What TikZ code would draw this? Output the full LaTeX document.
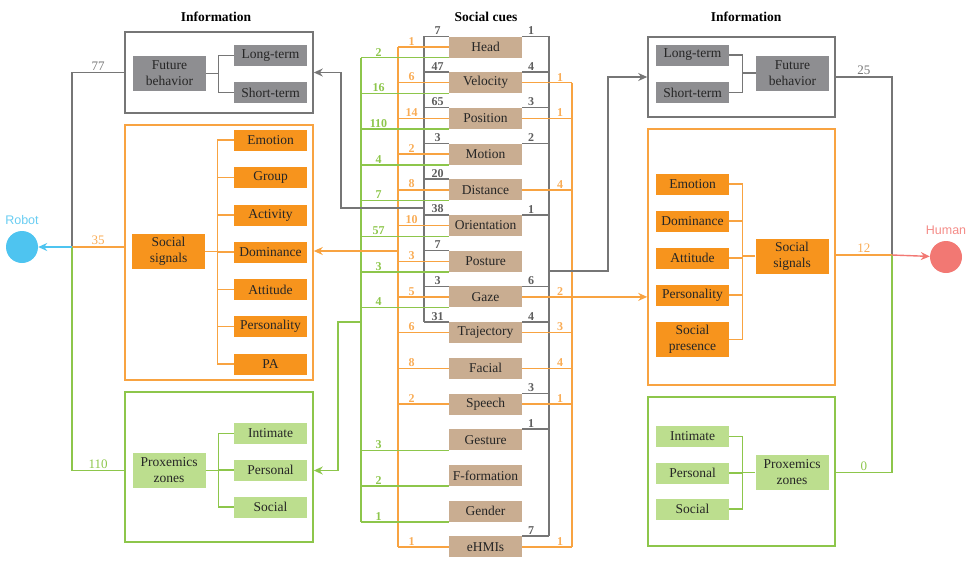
\documentclass[tikz,border=0pt]{standalone}
\usepackage{fontspec}
\usepackage{xcolor,ifthen,xifthen}
\setmainfont{Liberation Serif}
\newfontfamily\agentfont{Liberation Sans}
\usetikzlibrary{arrows.meta,positioning}
\definecolor{cuetan}{RGB}{201,173,145}
\definecolor{grayfill}{RGB}{142,142,145}
\definecolor{grayline}{RGB}{118,118,118}
\definecolor{orangefill}{RGB}{247,148,29}
\definecolor{orangeline}{RGB}{248,163,65}
\definecolor{orangenum}{RGB}{249,172,85}
\definecolor{greenfill}{RGB}{188,222,142}
\definecolor{greenline}{RGB}{141,198,75}
\definecolor{robotblue}{RGB}{78,196,240}
\definecolor{humanpink}{RGB}{242,120,115}
\tikzset{
  base/.style={rectangle, inner sep=0pt, align=center, text=black!85,
    font=\fontsize{13.5}{16}\selectfont, minimum width=73, minimum height=21},
  cue/.style={base, fill=cuetan},
  gitem/.style={base, fill=grayfill},
  oitem/.style={base, fill=orangefill},
  gritem/.style={base, fill=greenfill},
  frame/.style={rectangle, line width=1.6pt, inner sep=0pt},
  gframe/.style={frame, draw=grayline},
  oframe/.style={frame, draw=orangeline},
  grframe/.style={frame, draw=greenline},
  gline/.style={draw=grayline, line width=1.4pt},
  oline/.style={draw=orangeline, line width=1.4pt},
  grline/.style={draw=greenline, line width=1.4pt},
  tip/.style={-{Stealth[length=9pt,width=8pt]}},
  num/.style={inner sep=1pt, font=\fontsize{12}{13}\selectfont\bfseries},
  gnum/.style={num, text=grayline!80!black},
  onum/.style={num, text=orangenum},
  grnum/.style={num, text=greenline},
  big/.style={inner sep=1.5pt, font=\fontsize{13}{14}\selectfont},
  title/.style={font=\fontsize{13.5}{15}\selectfont\bfseries},
  agent/.style={circle, minimum size=32, inner sep=0pt},
  agentlbl/.style={inner sep=1pt, font=\agentfont\fontsize{12.5}{14}\selectfont}
}
\newcommand{\lcue}[4]{%
  \ifthenelse{\isempty{#2}}{}{\draw[gline] (#1.north west) -- (#1.north west -| lgray) node[pos=0.45,above,gnum]{#2};}%
  \ifthenelse{\isempty{#3}}{}{\draw[oline] (#1.west) -- (#1.west -| lorange) node[pos=0.73,above,onum]{#3};}%
  \ifthenelse{\isempty{#4}}{}{\draw[grline] (#1.south west) -- (#1.south west -| lgreen) node[pos=0.8,above,grnum]{#4};}%
}
\newcommand{\rcue}[3]{%
  \ifthenelse{\isempty{#2}}{}{\draw[gline] (#1.north east) -- (#1.north east -| rgray) node[pos=0.33,above,gnum]{#2};}%
  \ifthenelse{\isempty{#3}}{}{\draw[oline] (#1.east) -- (#1.east -| rorange) node[pos=0.76,above,onum]{#3};}%
}
\newcommand{\ltree}[3]{\draw[#1] (#2.east) -- ++(12.5,0) |- (#3.west);}
\newcommand{\rtree}[3]{\draw[#1] (#3.east) -- ++(13,0) |- (#2.west);}

\begin{document}
\begin{tikzpicture}[x=1pt,y=-1pt]
\useasboundingbox (0,0) rectangle (973,560);
\node[title] (ltitle) at (216,17) {Information};
\node[title] (ctitle) at (486,17) {Social cues};
\node[title] (rtitle) at (746,17) {Information};

\coordinate (lgray) at (424,0);
\coordinate (lorange) at (398,0);
\coordinate (lgreen) at (361,0);
\coordinate (rgray) at (549,0);
\coordinate (rorange) at (572,0);

\node[cue] (head) at (485.5,47) {Head};
\node[cue] (velocity) at (485.5,82.7) {Velocity};
\node[cue] (position) at (485.5,118.4) {Position};
\node[cue] (motion) at (485.5,154.1) {Motion};
\node[cue] (distance) at (485.5,189.8) {Distance};
\node[cue] (orientation) at (485.5,225.5) {Orientation};
\node[cue] (posture) at (485.5,261.2) {Posture};
\node[cue] (gaze) at (485.5,296.9) {Gaze};
\node[cue] (trajectory) at (485.5,332.6) {Trajectory};
\node[cue] (facial) at (485.5,368.3) {Facial};
\node[cue] (speech) at (485.5,404) {Speech};
\node[cue] (gesture) at (485.5,439.7) {Gesture};
\node[cue] (fformation) at (485.5,475.4) {F-formation};
\node[cue] (gender) at (485.5,511.1) {Gender};
\node[cue] (ehmis) at (485.5,546.8) {eHMIs};

\draw[gline] (head.north west -| lgray) -- (trajectory.north west -| lgray);
\draw[oline] (head.west -| lorange) -- (ehmis.west -| lorange);
\draw[grline] (head.south west -| lgreen) -- (gender.south west -| lgreen);
\draw[gline] (head.north east -| rgray) -- (ehmis.north east -| rgray);
\draw[oline] (velocity.east -| rorange) -- (ehmis.east -| rorange);

\lcue{head}{7}{1}{2}
\lcue{velocity}{47}{6}{16}
\lcue{position}{65}{14}{110}
\lcue{motion}{3}{2}{4}
\lcue{distance}{20}{8}{7}
\lcue{orientation}{38}{10}{57}
\lcue{posture}{7}{3}{3}
\lcue{gaze}{3}{5}{4}
\lcue{trajectory}{31}{6}{}
\lcue{facial}{}{8}{}
\lcue{speech}{}{2}{}
\lcue{gesture}{}{}{3}
\lcue{fformation}{}{}{2}
\lcue{gender}{}{}{1}
\lcue{ehmis}{}{1}{}

\rcue{head}{1}{}
\rcue{velocity}{4}{1}
\rcue{position}{3}{1}
\rcue{motion}{2}{}
\rcue{distance}{}{4}
\rcue{orientation}{1}{}
\rcue{gaze}{6}{2}
\rcue{trajectory}{4}{3}
\rcue{facial}{}{4}
\rcue{speech}{3}{1}
\rcue{gesture}{1}{}
\rcue{ehmis}{7}{1}

\node[gframe, minimum width=188, minimum height=81] (lfbox) at (219,72.5) {};
\node[gitem, minimum height=35] (lfb) at (169.5,73.5) {Future\\behavior};
\node[gitem] (llong) at (270.5,55.5) {Long-term};
\node[gitem] (lshort) at (270.5,92.5) {Short-term};
\ltree{gline}{lfb}{llong}
\ltree{gline}{lfb}{lshort}

\node[oframe, minimum width=188, minimum height=255] (lsbox) at (219,252.5) {};
\node[oitem, minimum height=35] (lss) at (168.5,251.5) {Social\\signals};
\node[oitem] (lemotion) at (270.5,140) {Emotion};
\node[oitem] (lgroup) at (270.5,177.5) {Group};
\node[oitem] (lactivity) at (270.5,215) {Activity};
\node[oitem] (ldominance) at (270.5,252) {Dominance};
\node[oitem] (lattitude) at (270.5,289.5) {Attitude};
\node[oitem] (lpersonality) at (270.5,326.5) {Personality};
\node[oitem] (lpa) at (270.5,364) {PA};
\ltree{oline}{lss}{lemotion}
\ltree{oline}{lss}{lgroup}
\ltree{oline}{lss}{lactivity}
\ltree{oline}{lss}{ldominance}
\ltree{oline}{lss}{lattitude}
\ltree{oline}{lss}{lpersonality}
\ltree{oline}{lss}{lpa}

\node[grframe, minimum width=188, minimum height=150] (lpbox) at (219,467) {};
\node[gritem, minimum height=35] (lpz) at (169,470.5) {Proxemics\\zones};
\node[gritem] (lintimate) at (270.5,433.5) {Intimate};
\node[gritem] (lpersonal) at (270.5,470) {Personal};
\node[gritem] (lsocial) at (270.5,507) {Social};
\ltree{grline}{lpz}{lintimate}
\ltree{grline}{lpz}{lpersonal}
\ltree{grline}{lpz}{lsocial}

\node[gframe, minimum width=187, minimum height=80] (rfbox) at (741.5,77) {};
\node[gitem] (rlong) at (692.5,55) {Long-term};
\node[gitem] (rshort) at (692.5,92.5) {Short-term};
\node[gitem, minimum height=35] (rfb) at (792.5,73) {Future\\behavior};
\rtree{gline}{rfb}{rlong}
\rtree{gline}{rfb}{rshort}

\node[oframe, minimum width=187, minimum height=256] (rsbox) at (741.5,257) {};
\node[oitem] (remotion) at (692.5,184) {Emotion};
\node[oitem] (rdominance) at (692.5,221) {Dominance};
\node[oitem] (rattitude) at (692.5,258) {Attitude};
\node[oitem] (rpersonality) at (692.5,295) {Personality};
\node[oitem, minimum height=35] (rpresence) at (692.5,339.5) {Social\\presence};
\node[oitem, minimum height=35] (rss) at (792,256) {Social\\signals};
\rtree{oline}{rss}{remotion}
\rtree{oline}{rss}{rdominance}
\rtree{oline}{rss}{rattitude}
\rtree{oline}{rss}{rpersonality}
\rtree{oline}{rss}{rpresence}

\node[grframe, minimum width=187, minimum height=149] (rpbox) at (741.5,471.5) {};
\node[gritem] (rintimate) at (692.5,436.5) {Intimate};
\node[gritem] (rpersonal) at (692.5,473) {Personal};
\node[gritem] (rsocial) at (692.5,509) {Social};
\node[gritem, minimum height=35] (rpz) at (792,472.5) {Proxemics\\zones};
\rtree{grline}{rpz}{rintimate}
\rtree{grline}{rpz}{rpersonal}
\rtree{grline}{rpz}{rsocial}

\coordinate (lgout) at (424,208);
\coordinate (loout) at (398,251);
\coordinate (lrout) at (361,322);
\coordinate (rgout) at (549,271);
\draw[gline,tip] (lgout) -- ++(-83,0) |- (lfbox.east);
\draw[oline,tip] (loout) -- (loout -| lsbox.east);
\draw[grline,tip] (lrout) -- ++(-23,0) |- (lpz -| lpbox.east);
\draw[gline,tip] (rgout) -- ++(59,0) |- (rfbox.west);
\draw[oline,tip] (gaze.east -| rorange) -- (gaze.east -| rsbox.west);

\node[agent, fill=robotblue] (robot) at (22,247) {};
\node[above=5pt of robot, agentlbl, text=robotblue!85!white] (robotlbl) {Robot};
\node[agent, fill=humanpink] (human) at (946,257) {};
\node[above=5pt of human, agentlbl, text=humanpink!85!white] (humanlbl) {Human};

\coordinate (rj) at (72,247);
\coordinate (hj) at (892,255);
\draw[gline] (lfbox.west) -- node[above,big,text=grayline]{77} (lfbox.west -| rj) -- (rj);
\draw[oline] (rj -| lsbox.west) -- node[above,big,text=orangenum]{35} (rj);
\draw[grline] (lpz -| lpbox.west) -- node[above,big,text=greenline]{110} (lpz -| rj) -- (rj);
\draw[draw=robotblue, line width=1.4pt, tip] (rj) -- (robot);
\draw[gline] (rfbox.east) -- node[above,big,text=grayline]{25} (rfbox.east -| hj) -- (hj);
\draw[oline] (hj -| rsbox.east) -- node[above,big,text=orangenum]{12} (hj);
\draw[grline] (rpz -| rpbox.east) -- node[above,big,text=greenline]{0} (rpz -| hj) -- (hj);
\draw[draw=humanpink, line width=1.4pt, tip] (hj) -- (human);
\end{tikzpicture}
\end{document}
